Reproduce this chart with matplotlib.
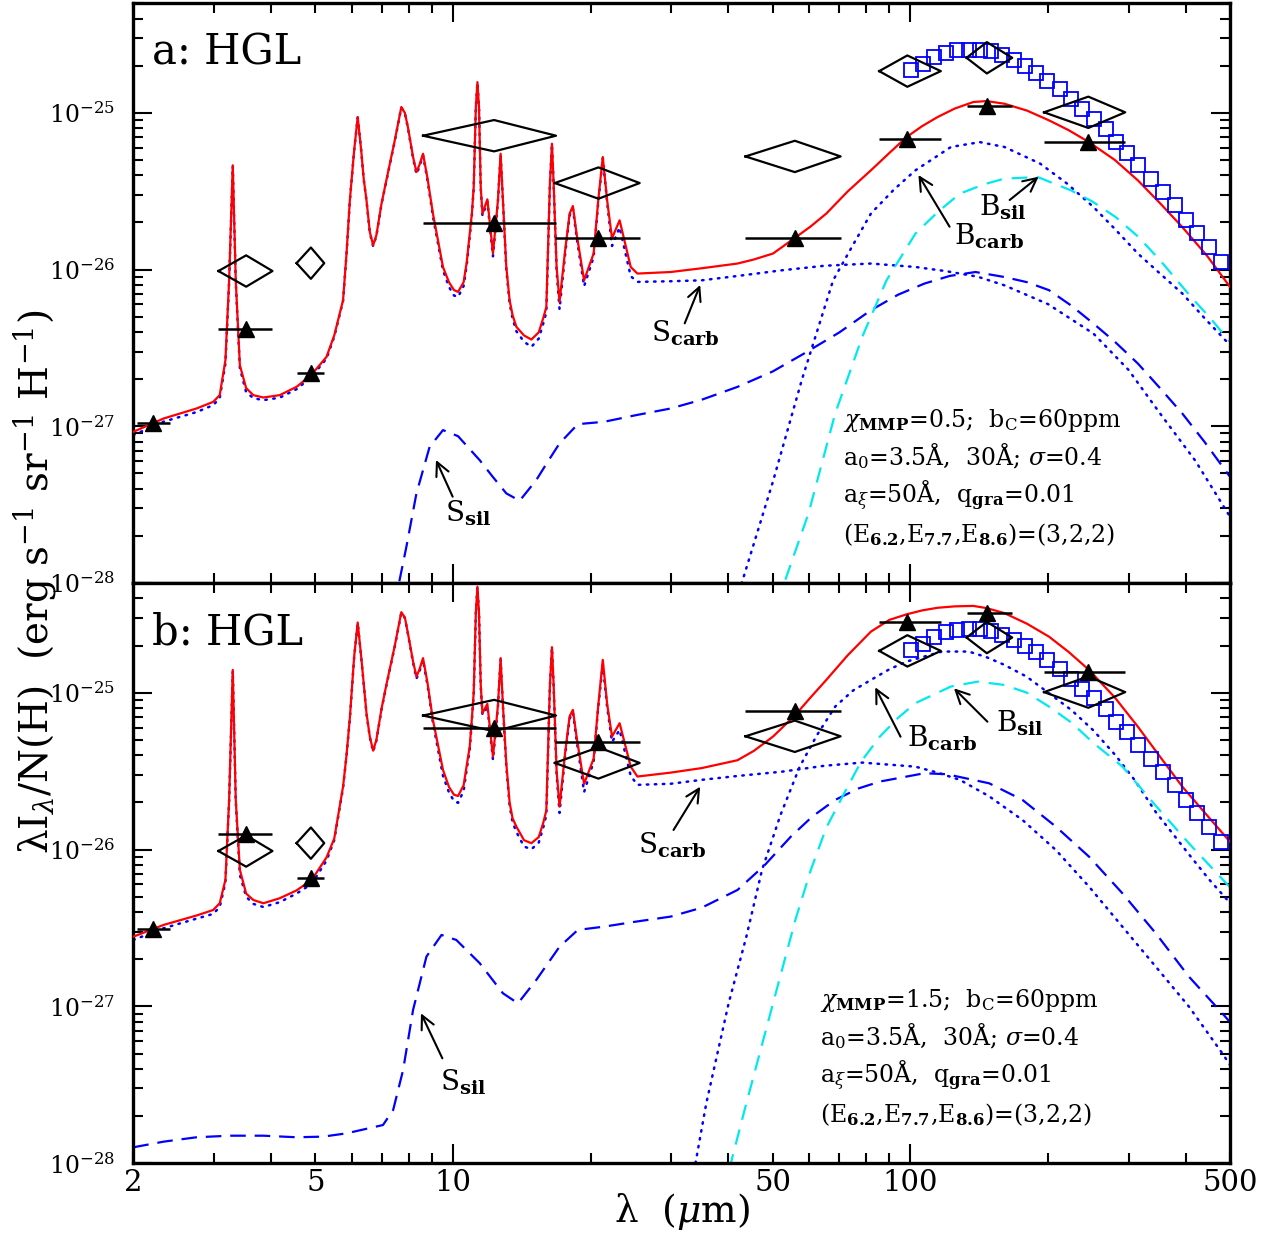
import numpy as np
import matplotlib
matplotlib.use("Agg")
import matplotlib.pyplot as plt
from matplotlib.ticker import LogLocator, FixedLocator, FuncFormatter, NullFormatter

plt.rcParams['font.family'] = ['DejaVu Serif']
plt.rcParams['mathtext.fontset'] = 'dejavuserif'

# ---- wavelength grid for the mid-IR part of the spectra (micron) ----
lam_mir = [2.00, 2.33, 2.75, 2.99, 3.09, 3.18, 3.24, 3.30, 3.35, 3.42,
           3.53, 3.66, 3.85, 4.18, 4.55, 4.91, 5.29, 5.50, 5.75, 5.85,
           5.95, 6.08, 6.19, 6.30, 6.38, 6.47, 6.58, 6.69, 6.80, 6.98,
           7.15, 7.46, 7.71, 7.85, 7.97, 8.18, 8.32, 8.45, 8.60, 8.80,
           9.04, 9.51, 9.80, 10.05, 10.26, 10.55, 10.72, 10.88, 11.00, 11.10,
           11.22, 11.31, 11.40, 11.50, 11.60, 11.89, 12.23, 12.54, 12.71, 12.86,
           13.08, 13.30, 13.50, 13.76, 14.30, 14.84, 15.40, 15.75, 16.00, 16.29,
           16.46, 16.60, 16.85, 17.10, 17.59, 17.99, 18.29, 18.63, 19.35, 20.30,
           20.78, 21.26, 21.73, 22.27, 23.14, 24.47, 25.31]

# log10 of lambda*I_lambda/N(H) (erg s-1 sr-1 H-1)
# panel a: total (red) and small carbonaceous grains (dotted)
red_a_mir = [-27.035, -26.950, -26.886, -26.844, -26.801, -26.578, -26.068, -25.334, -26.068, -26.610,
             -26.756, -26.801, -26.816, -26.801, -26.748, -26.669, -26.557, -26.420, -26.195, -25.900,
             -25.557, -25.239, -25.026, -25.239, -25.420, -25.557, -25.760, -25.844, -25.780, -25.577,
             -25.430, -25.175, -24.962, -25.000, -25.090, -25.281, -25.377, -25.330, -25.260, -25.420,
             -25.642, -25.983, -26.080, -26.130, -26.142, -26.080, -25.950, -25.770, -25.640, -25.473,
             -24.962, -24.803, -24.962, -25.473, -25.642, -25.551, -25.897, -25.557, -25.260, -25.557,
             -25.983, -26.195, -26.290, -26.365, -26.420, -26.446, -26.400, -26.310, -26.238, -25.451,
             -25.196, -25.451, -25.983, -26.206, -25.876, -25.642, -25.594, -25.770, -26.068, -25.897,
             -25.557, -25.281, -25.557, -25.800, -25.685, -25.983, -26.025]
scarb_a_mir = [-27.056, -26.970, -26.909, -26.865, -26.820, -26.600, -26.080, -25.340, -26.080, -26.629,
               -26.782, -26.820, -26.833, -26.817, -26.763, -26.683, -26.568, -26.428, -26.200, -25.905,
               -25.560, -25.240, -25.030, -25.240, -25.425, -25.560, -25.765, -25.850, -25.785, -25.580,
               -25.435, -25.180, -24.965, -25.004, -25.095, -25.290, -25.390, -25.342, -25.270, -25.432,
               -25.660, -26.004, -26.110, -26.165, -26.174, -26.105, -25.970, -25.788, -25.652, -25.480,
               -24.965, -24.806, -24.965, -25.480, -25.655, -25.565, -25.915, -25.565, -25.265, -25.565,
               -26.000, -26.214, -26.312, -26.393, -26.460, -26.493, -26.440, -26.345, -26.272, -25.460,
               -25.200, -25.460, -26.010, -26.253, -25.900, -25.655, -25.610, -25.790, -26.106, -25.920,
               -25.570, -25.290, -25.570, -25.849, -25.730, -26.042, -26.078]
# panel b
red_b_mir = [-26.555, -26.480, -26.420, -26.385, -26.342, -26.193, -25.683, -24.854, -25.683, -26.129,
             -26.280, -26.321, -26.342, -26.310, -26.260, -26.193, -26.050, -25.930, -25.598, -25.400,
             -25.160, -24.770, -24.552, -24.770, -24.940, -25.130, -25.280, -25.369, -25.300, -25.100,
             -24.950, -24.700, -24.486, -24.520, -24.620, -24.800, -24.897, -24.850, -24.779, -24.940,
             -25.173, -25.492, -25.600, -25.650, -25.658, -25.590, -25.460, -25.343, -25.160, -25.000,
             -24.490, -24.323, -24.490, -24.950, -25.130, -25.071, -25.407, -25.080, -24.779, -25.080,
             -25.450, -25.700, -25.800, -25.853, -25.940, -25.959, -25.920, -25.830, -25.750, -24.950,
             -24.709, -24.950, -25.500, -25.726, -25.380, -25.150, -25.109, -25.280, -25.581, -25.420,
             -25.080, -24.790, -25.070, -25.279, -25.194, -25.471, -25.534]
scarb_b_mir = [-26.576, -26.501, -26.440, -26.410, -26.366, -26.210, -25.690, -24.860, -25.690, -26.161,
               -26.300, -26.346, -26.366, -26.335, -26.280, -26.219, -26.070, -25.940, -25.605, -25.405,
               -25.165, -24.775, -24.556, -24.775, -24.945, -25.135, -25.285, -25.375, -25.305, -25.105,
               -24.955, -24.705, -24.490, -24.524, -24.625, -24.808, -24.910, -24.862, -24.790, -24.955,
               -25.190, -25.530, -25.635, -25.690, -25.702, -25.625, -25.485, -25.363, -25.172, -25.010,
               -24.494, -24.326, -24.494, -24.960, -25.140, -25.085, -25.427, -25.090, -24.784, -25.090,
               -25.470, -25.720, -25.825, -25.887, -25.980, -25.998, -25.955, -25.860, -25.780, -24.960,
               -24.714, -24.960, -25.520, -25.766, -25.400, -25.165, -25.125, -25.300, -25.633, -25.440,
               -25.090, -24.822, -25.090, -25.313, -25.237, -25.530, -25.587]

# far-IR part of the total spectra
lam_fir = [29.93, 35.0, 41.88, 45.5, 50.1, 56.06, 60.5, 65.5, 73.0, 82.0,
           90.0, 98.1, 106.0, 114.7, 125.0, 137.3, 146.8, 160.6, 180.0, 201.0,
           222.0, 245.8, 280.0, 314.4, 350.0, 393.2, 445.0, 500.0]
red_a_fir = [-26.015, -25.991, -25.961, -25.935, -25.897, -25.795, -25.725, -25.642, -25.500, -25.366,
             -25.255, -25.154, -25.085, -25.026, -24.972, -24.930, -24.924, -24.941, -24.985, -25.047,
             -25.110, -25.186, -25.300, -25.430, -25.570, -25.728, -25.910, -26.110]
red_b_fir = [-25.509, -25.480, -25.430, -25.370, -25.279, -25.141, -25.030, -24.918, -24.760, -24.610,
             -24.535, -24.500, -24.475, -24.458, -24.449, -24.446, -24.460, -24.492, -24.560, -24.642,
             -24.740, -24.854, -25.030, -25.216, -25.400, -25.598, -25.780, -25.950]

# far-IR part of S_carb
lam_scarb_a_fir = [29.93, 35.0, 42.0, 52.4, 65.0, 82.0, 102.6, 120.0, 140.4, 160.6,
                   200.0, 251.4, 300.0, 351.6, 420.0, 500.0]
scarb_a_fir = [-26.074, -26.068, -26.040, -26.004, -25.975, -25.961, -25.983, -26.010, -26.045, -26.100,
               -26.220, -26.408, -26.640, -26.918, -27.220, -27.577]
lam_scarb_b_fir = [29.93, 35.0, 42.0, 52.4, 65.0, 78.5, 102.6, 115.0, 128.3, 148.7,
                   175.9, 208.0, 245.9, 290.8, 344.0, 406.6, 480.8, 500.0]
scarb_b_fir = [-25.580, -25.555, -25.530, -25.503, -25.465, -25.445, -25.471, -25.510, -25.555, -25.660,
               -25.811, -26.002, -26.236, -26.491, -26.746, -27.001, -27.298, -27.373]

# big carbonaceous grains (B_carb)
lam_bcarb_a = [40.0, 42.8, 50.1, 57.96, 67.8, 75.0, 82.0, 92.0, 102.6, 122.7,
               141.9, 160.6, 192.2, 220.0, 251.4, 280.0, 314.4, 350.0, 393.2, 440.0, 500.0]
bcarb_a = [-28.3, -28.0, -27.35, -26.70, -26.068, -25.840, -25.642, -25.490, -25.366, -25.217,
           -25.186, -25.217, -25.323, -25.450, -25.600, -25.740, -25.897, -26.020, -26.152, -26.310, -26.482]
lam_bcarb_b = [33.0, 33.9, 35.8, 40.06, 43.8, 47.4, 52.0, 57.3, 62.5, 68.5,
               75.0, 82.0, 90.0, 98.1, 117.3, 134.2, 146.8, 160.0, 179.6, 201.0,
               225.0, 251.4, 281.2, 310.0, 344.0, 406.6, 450.0, 500.0]
bcarb_b = [-28.2, -28.0, -27.617, -26.980, -26.555, -26.129, -25.780, -25.471, -25.270, -25.088,
           -24.985, -24.918, -24.850, -24.801, -24.737, -24.737, -24.773, -24.820, -24.897, -25.003,
           -25.110, -25.240, -25.400, -25.560, -25.760, -26.030, -26.190, -26.340]

# big silicate grains (B_sil)
lam_bsil_a = [51.0, 53.0, 59.9, 68.5, 78.5, 88.7, 102.6, 115.0, 128.3, 145.0,
              160.6, 189.9, 224.6, 250.0, 281.0, 315.0, 351.6, 410.8, 450.0, 500.0]
bsil_a = [-28.3, -28.0, -27.555, -26.918, -26.429, -26.068, -25.770, -25.630, -25.515, -25.455,
          -25.419, -25.409, -25.494, -25.565, -25.664, -25.790, -25.940, -26.174, -26.300, -26.461]
lam_bsil_b = [39.5, 40.5, 43.8, 50.1, 56.06, 60.6, 65.5, 71.7, 78.0, 85.8,
              94.0, 102.6, 122.7, 140.4, 160.6, 180.0, 201.0, 225.0, 251.4, 290.8,
              344.0, 406.6, 500.0]
bsil_b = [-28.2, -28.0, -27.617, -26.980, -26.448, -26.129, -25.860, -25.640, -25.440, -25.279,
          -25.160, -25.066, -24.960, -24.929, -24.950, -25.000, -25.088, -25.190, -25.320, -25.470,
          -25.720, -25.960, -26.240]

# small silicate grains (S_sil)
lam_ssil_a = [7.40, 7.62, 7.91, 8.32, 8.89, 9.51, 10.26, 11.44, 12.20, 13.08,
              13.99, 15.21, 16.00, 17.10, 18.75, 21.4, 25.0, 29.93, 35.0, 41.9,
              50.0, 58.6, 70.0, 82.0, 94.0, 107.3, 122.0, 138.8, 160.6, 180.0,
              201.0, 225.0, 251.4, 280.0, 314.4, 350.0, 393.2, 440.0, 500.0]
ssil_a = [-28.14, -28.0, -27.768, -27.428, -27.131, -27.024, -27.063, -27.216, -27.320, -27.428,
          -27.475, -27.343, -27.240, -27.109, -26.986, -26.971, -26.930, -26.886, -26.830, -26.748,
          -26.650, -26.535, -26.400, -26.259, -26.160, -26.089, -26.040, -26.015, -26.047, -26.080,
          -26.131, -26.230, -26.344, -26.460, -26.599, -26.750, -26.918, -27.100, -27.322]
lam_ssil_b = [2.00, 2.33, 2.75, 3.25, 3.85, 4.55, 5.20, 5.85, 7.03, 7.40,
              7.78, 8.18, 8.75, 9.44, 10.17, 11.44, 12.86, 13.87, 15.21, 17.10,
              18.75, 21.4, 25.0, 29.93, 35.0, 41.9, 48.0, 54.8, 61.0, 68.5,
              77.0, 85.8, 107.3, 120.0, 148.7, 175.9, 208.0, 245.9, 290.8, 344.0,
              406.6, 480.8, 500.0]
ssil_b = [-27.898, -27.862, -27.834, -27.824, -27.824, -27.834, -27.830, -27.809, -27.756, -27.660,
          -27.405, -27.022, -26.682, -26.544, -26.576, -26.724, -26.916, -26.980, -26.831, -26.619,
          -26.512, -26.491, -26.460, -26.427, -26.370, -26.257, -26.100, -25.917, -25.790, -25.683,
          -25.610, -25.566, -25.513, -25.519, -25.577, -25.683, -25.853, -26.045, -26.278, -26.533,
          -26.810, -27.043, -27.100]

# FIRAS spectrum (open squares)
lam_firas = [100.3, 106.4, 112.8, 119.7, 126.8, 134.5, 142.2, 150.0, 159.0, 168.7,
             178.3, 188.7, 199.4, 212.6, 224.4, 237.8, 252.2, 267.4, 281.2, 298.3,
             315.2, 335.4, 356.8, 378.4, 401.2, 423.4, 449.8, 477.0]
firas_log = [-24.728, -24.686, -24.644, -24.615, -24.601, -24.596, -24.596, -24.607, -24.633, -24.665,
             -24.701, -24.743, -24.794, -24.849, -24.909, -24.973, -25.036, -25.105, -25.186, -25.253,
             -25.334, -25.419, -25.504, -25.589, -25.685, -25.768, -25.855, -25.951]

# photometric bands: DIRBE band-averaged model (triangles) and observations (diamonds)
band_lo = [2.04, 3.07, 4.55, 8.60, 16.7, 43.6, 85.5, 132.7, 196.0]
band_c = [2.21, 3.53, 4.89, 12.3, 20.8, 55.9, 98.5, 147.0, 245.0]
band_hi = [2.41, 4.03, 5.23, 16.8, 25.6, 70.4, 116.6, 167.0, 295.0]
model_a = [1.05e-27, 4.17e-27, 2.19e-27, 1.99e-26, 1.60e-26, 1.60e-26, 6.86e-26, 1.11e-25, 6.51e-26]
model_b = [3.10e-27, 1.26e-26, 6.60e-27, 6.00e-26, 4.89e-26, 7.69e-26, 2.84e-25, 3.22e-25, 1.35e-25]
obs = [9.8e-27, 1.10e-26, 7.16e-26, 3.57e-26, 5.28e-26, 1.85e-25, 2.25e-25, 1.01e-25]  # bands 2..9
obs_err_dex = 0.1

params_a = [r'$\chi_{\mathbf{MMP}}$=0.5;  b$_{\mathrm{C}}$=60ppm',
            r'a$_0$=3.5Å,  30Å; $\sigma$=0.4',
            r'a$_\xi$=50Å,  q$_{\mathbf{gra}}$=0.01',
            r'(E$_{\mathbf{6.2}}$,E$_{\mathbf{7.7}}$,E$_{\mathbf{8.6}}$)=(3,2,2)']
params_b = [params_a[0].replace('0.5', '1.5')] + params_a[1:]

BLUE = '#0000ff'
CYAN = '#00e8f0'

fig = plt.figure(figsize=(12.8, 12.43), dpi=100)
ax_a = fig.add_axes([0.10414, 0.53097, 0.85680, 0.46637])
ax_b = fig.add_axes([0.10414, 0.06412, 0.85680, 0.46685])

xlabels = {2: '2', 5: '5', 10: '10', 50: '50', 100: '100', 500: '500'}


def xfmt(v, pos):
    for k, s in xlabels.items():
        if abs(v - k) < 1e-6 * k:
            return s
    return ''


def style(ax, show_x):
    ax.set_xscale('log')
    ax.set_yscale('log')
    ax.set_xlim(2, 500)
    ax.set_ylim(1e-28, 10 ** -24.3)
    ax.xaxis.set_major_locator(FixedLocator([10, 100]))
    ax.xaxis.set_minor_locator(LogLocator(base=10, subs=np.arange(2, 10), numticks=20))
    ax.yaxis.set_major_locator(FixedLocator([1e-28, 1e-27, 1e-26, 1e-25]))
    ax.yaxis.set_minor_locator(LogLocator(base=10, subs=np.arange(2, 10), numticks=20))
    if show_x:
        ax.xaxis.set_major_formatter(FuncFormatter(xfmt))
        ax.xaxis.set_minor_formatter(FuncFormatter(xfmt))
    else:
        ax.xaxis.set_major_formatter(NullFormatter())
        ax.xaxis.set_minor_formatter(NullFormatter())
    ax.yaxis.set_major_formatter(FuncFormatter(lambda v, p: r'$10^{%d}$' % round(np.log10(v))))
    ax.yaxis.set_minor_formatter(NullFormatter())
    ax.tick_params(which='both', direction='in', top=True, right=True, width=1.5)
    ax.tick_params(which='major', length=14)
    ax.tick_params(which='minor', length=7)
    ax.tick_params(axis='x', which='both', labelsize=21, pad=4)
    ax.tick_params(axis='y', which='both', labelsize=17, pad=13)
    for s in ax.spines.values():
        s.set_linewidth(2.4)


def draw_panel(ax, red_mir, red_fir, scarb_mir, lam_sc_fir, sc_fir,
               lam_bc, bc, lam_bs, bs, lam_ss, ss, model, tag, params, px, lab, arr):
    lam_tot = lam_mir + lam_fir
    dot = (0, (0.6, 2.6))
    ax.plot(lam_mir + lam_sc_fir, 10 ** np.array(scarb_mir + sc_fir), color=BLUE, lw=1.8,
            ls=dot, dash_capstyle='round', zorder=2)
    ax.plot(lam_bc, 10 ** np.array(bc), color=BLUE, lw=1.8, ls=dot, dash_capstyle='round', zorder=2)
    ax.plot(lam_ss, 10 ** np.array(ss), color=BLUE, lw=1.6, ls=(0, (7, 4)), zorder=2)
    ax.plot(lam_bs, 10 ** np.array(bs), color=CYAN, lw=1.6, ls=(0, (7, 4.5)), zorder=2)
    ax.plot(lam_tot, 10 ** np.array(red_mir + red_fir), color='red', lw=1.6, zorder=3)

    ax.plot(lam_firas, 10 ** np.array(firas_log), 's', mfc='none', mec=BLUE, ms=9.5, mew=1.3, zorder=4)

    f = 10 ** obs_err_dex
    for lo, c, hi, v in zip(band_lo[1:], band_c[1:], band_hi[1:], obs):
        ax.plot([lo, c, hi, c, lo], [v, v * f, v, v / f, v], color='black', lw=1.6, zorder=5)
    ax.hlines(model, band_lo, band_hi, color='black', lw=1.8, zorder=5)
    ax.plot(band_c, model, '^', color='black', ms=11, zorder=6)

    ax.text(0.017, 0.8936, tag, transform=ax.transAxes, fontsize=30, ha='left', va='baseline')
    ybase = [0.2696, 0.2036, 0.1375, 0.0712]
    for s, yb in zip(params, ybase):
        ax.text(px, yb, s, transform=ax.transAxes, fontsize=17, ha='left', va='baseline')
    for text, pos in lab:
        ax.text(pos[0], pos[1], text, transform=ax.transAxes, fontsize=20, ha='left', va='baseline')
    for head, tail in arr:
        ax.annotate('', xy=head, xytext=tail, xycoords='axes fraction', textcoords='axes fraction',
                    arrowprops=dict(arrowstyle='->', lw=1.5, color='black', mutation_scale=24,
                                    shrinkA=0, shrinkB=0))


S_CARB = r'S$_{\mathbf{carb}}$'
S_SIL = r'S$_{\mathbf{sil}}$'
B_CARB = r'B$_{\mathbf{carb}}$'
B_SIL = r'B$_{\mathbf{sil}}$'

labels_a = [(S_CARB, (0.4723, 0.4163)), (S_SIL, (0.2842, 0.1057)),
            (B_CARB, (0.7483, 0.5831)), (B_SIL, (0.7707, 0.6348))]
arrows_a = [((0.5169, 0.5141), (0.5028, 0.448)), ((0.2760, 0.2122), (0.2912, 0.1489)),
            ((0.7159, 0.7038), (0.7443, 0.6146)), ((0.8255, 0.7009), (0.7991, 0.6607))]
labels_b = [(S_CARB, (0.4601, 0.5342)), (S_SIL, (0.2797, 0.1251)),
            (B_CARB, (0.7058, 0.7179)), (B_SIL, (0.7869, 0.7438))]
arrows_b = [((0.5169, 0.649), (0.4926, 0.5744)), ((0.2623, 0.2585), (0.2818, 0.1809)),
            ((0.6765, 0.8203), (0.6996, 0.7351)), ((0.7483, 0.8185), (0.7788, 0.761))]

style(ax_a, False)
style(ax_b, True)
draw_panel(ax_a, red_a_mir, red_a_fir, scarb_a_mir, lam_scarb_a_fir, scarb_a_fir,
           lam_bcarb_a, bcarb_a, lam_bsil_a, bsil_a, lam_ssil_a, ssil_a, model_a,
           'a: HGL', params_a, 0.647, labels_a, arrows_a)
draw_panel(ax_b, red_b_mir, red_b_fir, scarb_b_mir, lam_scarb_b_fir, scarb_b_fir,
           lam_bcarb_b, bcarb_b, lam_bsil_b, bsil_b, lam_ssil_b, ssil_b, model_b,
           'b: HGL', params_b, 0.6266, labels_b, arrows_b)

fig.text(35 / 1280, 1 - 582 / 1243,
         r'λI$_{λ}$/N(H)  (erg s$^{-1}$ sr$^{-1}$ H$^{-1}$)',
         rotation=90, fontsize=28, ha='center', va='center')
fig.text(681.7 / 1280, 1 - 1212 / 1243, r'λ  ($\mu$m)', fontsize=27, ha='center', va='center')

fig.savefig('out.png', dpi=100)
